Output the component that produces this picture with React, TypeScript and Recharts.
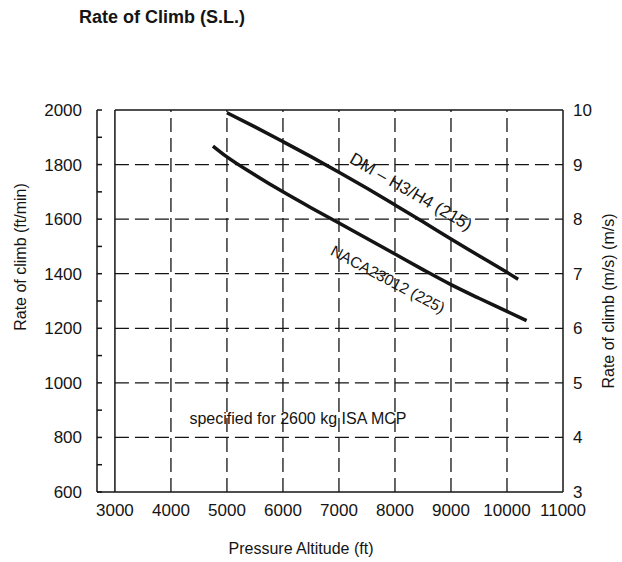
import { LineChart, Line, XAxis, YAxis, ReferenceLine, ReferenceDot } from 'recharts';

// axis ticks
const altitudeTicks = [3000, 4000, 5000, 6000, 7000, 8000, 9000, 10000, 11000];
const rateTicks = [600, 700, 800, 900, 1000, 1100, 1200, 1300, 1400, 1500, 1600, 1700, 1800, 1900, 2000];
const msTicks = [3, 4, 5, 6, 7, 8, 9, 10];
const gridAltitudes = [4000, 5000, 6000, 7000, 8000, 9000, 10000];
const gridRates = [800, 1000, 1200, 1400, 1600, 1800];

// curves (ft / ft per min)
const dmAltitude = [5000, 5500, 6000, 6500, 7000, 7500, 8000, 8500, 9000, 9500, 10000, 10200];
const dmRate = [1990, 1938, 1884, 1829, 1772, 1713, 1652, 1590, 1527, 1466, 1405, 1380];
const nacaAltitude = [4750, 5000, 5500, 6000, 6500, 7000, 7500, 8000, 8500, 9000, 9500, 10000, 10350];
const nacaRate = [1868, 1828, 1762, 1700, 1642, 1586, 1529, 1472, 1415, 1360, 1310, 1262, 1228];

// the left axis sits a little outside the framed box
const altitudeDomain = [2680, 11000];

const ink = '#141414';
const font = '"Liberation Sans", Arial, Helvetica, sans-serif';
const dash = '14 6';

const dmData = dmAltitude.map((alt, i) => ({ alt, rate: dmRate[i] }));
const nacaData = nacaAltitude.map((alt, i) => ({ alt, rate: nacaRate[i] }));
// only there so the m/s axis gets drawn
const msData = msTicks.map((ms) => ({ alt: altitudeTicks[altitudeTicks.length - 1], ms }));

function RateTick({ x, y, payload }: any) {
  if (payload.value % 200 !== 0) return <g />;
  return (
    <text x={x} y={y} dy="0.35em" textAnchor="end" fontSize={17} fill={ink} fontFamily={font}>
      {payload.value}
    </text>
  );
}

export default function App() {
  return (
    <div
      style={{
        position: 'absolute',
        left: 0,
        top: 0,
        width: 622,
        height: 562,
        background: '#fff',
        fontFamily: font,
        color: ink,
      }}
    >
      <div
        style={{
          position: 'absolute',
          right: 377,
          top: 7,
          fontSize: 18,
          fontWeight: 'bold',
          whiteSpace: 'nowrap',
          textAlign: 'right',
        }}
      >
        Rate of Climb (S.L.)
      </div>
      <LineChart
        width={622}
        height={562}
        margin={{ top: 110, right: 19, bottom: 40, left: 37 }}
        style={{ position: 'absolute', left: 0, top: 0 }}
      >
        <XAxis
          dataKey="alt"
          type="number"
          domain={altitudeDomain}
          ticks={altitudeTicks}
          interval={0}
          height={30}
          tickSize={0}
          tickMargin={12}
          tickLine={false}
          axisLine={{ stroke: ink, strokeWidth: 1.5 }}
          tick={{ fill: ink, fontSize: 17, fontFamily: font }}
          allowDataOverflow
        />
        <YAxis
          yAxisId="ft"
          type="number"
          domain={[600, 2000]}
          ticks={rateTicks}
          interval={0}
          width={60}
          tickSize={-5}
          tickMargin={20}
          tickLine={{ stroke: ink, strokeWidth: 1.5 }}
          axisLine={{ stroke: ink, strokeWidth: 1.5 }}
          tick={<RateTick />}
        />
        <YAxis
          yAxisId="ms"
          orientation="right"
          type="number"
          domain={[3, 10]}
          ticks={msTicks}
          interval={0}
          width={40}
          tickSize={0}
          tickMargin={10}
          tickLine={false}
          axisLine={{ stroke: ink, strokeWidth: 1.5 }}
          tick={{ fill: ink, fontSize: 17, fontFamily: font }}
        />

        {gridAltitudes.map((a) => (
          <ReferenceLine key={'v' + a} yAxisId="ft" x={a} stroke={ink} strokeWidth={1.3} strokeDasharray={dash} />
        ))}
        {gridRates.map((r) => (
          <ReferenceLine
            key={'h' + r}
            yAxisId="ft"
            segment={[
              { x: altitudeTicks[0], y: r },
              { x: altitudeTicks[altitudeTicks.length - 1], y: r },
            ]}
            stroke={ink}
            strokeWidth={1.3}
            strokeDasharray={dash}
          />
        ))}
        {/* frame: left and top edges */}
        <ReferenceLine yAxisId="ft" x={altitudeTicks[0]} stroke={ink} strokeWidth={1.5} />
        <ReferenceLine
          yAxisId="ft"
          segment={[
            { x: altitudeTicks[0], y: 2000 },
            { x: altitudeTicks[altitudeTicks.length - 1], y: 2000 },
          ]}
          stroke={ink}
          strokeWidth={1.5}
        />

        <Line
          yAxisId="ms"
          data={msData}
          dataKey="ms"
          stroke="none"
          dot={false}
          activeDot={false}
          isAnimationActive={false}
        />
        <Line
          yAxisId="ft"
          data={dmData}
          dataKey="rate"
          type="monotone"
          stroke={ink}
          strokeWidth={3.5}
          dot={false}
          isAnimationActive={false}
        />
        <Line
          yAxisId="ft"
          data={nacaData}
          dataKey="rate"
          type="monotone"
          stroke={ink}
          strokeWidth={3.5}
          dot={false}
          isAnimationActive={false}
        />

        <ReferenceDot
          yAxisId="ft"
          x={8290}
          y={1702}
          r={0}
          fill="none"
          stroke="none"
          label={{ value: 'DM – H3/H4 (215)', angle: 30, position: 'center', fontSize: 17, fill: ink, fontFamily: font }}
        />
        <ReferenceDot
          yAxisId="ft"
          x={7875}
          y={1380}
          r={0}
          fill="none"
          stroke="none"
          label={{ value: 'NACA23012 (225)', angle: 28, position: 'center', fontSize: 15.5, fill: ink, fontFamily: font }}
        />
        <ReferenceDot
          yAxisId="ft"
          x={6268}
          y={871}
          r={0}
          fill="none"
          stroke="none"
          label={{ value: 'specified for 2600 kg ISA MCP', position: 'center', fontSize: 16, fill: ink, fontFamily: font }}
        />
      </LineChart>
      <svg width={622} height={562} style={{ position: 'absolute', left: 0, top: 0, pointerEvents: 'none' }}>
        <text x={20} y={257} transform="rotate(-90 20 257)" textAnchor="middle" dominantBaseline="central" fontSize={16} fill={ink}>
          Rate of climb  (ft/min)
        </text>
        <text x={608} y={301} transform="rotate(-90 608 301)" textAnchor="middle" dominantBaseline="central" fontSize={16} fill={ink}>
          Rate of climb (m/s)  (m/s)
        </text>
        <text x={301} y={548} textAnchor="middle" dominantBaseline="central" fontSize={16} fill={ink}>
          Pressure Altitude  (ft)
        </text>
      </svg>
    </div>
  );
}
